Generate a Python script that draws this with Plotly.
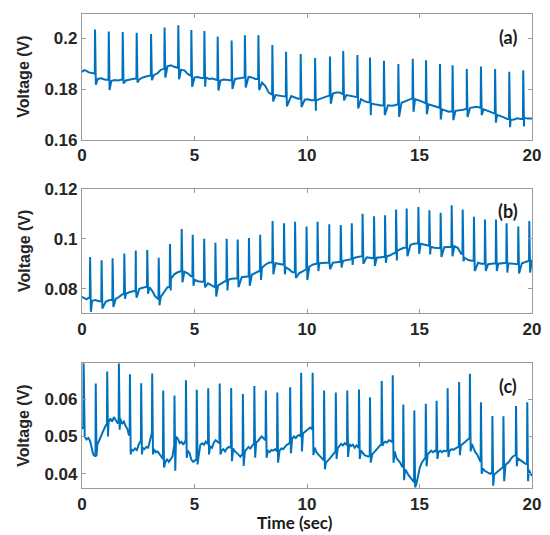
import plotly.graph_objects as go

# ---------------- data ----------------
# Panel (a)
a_base_t = [0.00,0.10,0.20,0.30,0.45,0.55,0.70,0.85,1.00,1.15,1.30,1.45,1.60,1.75,1.95,2.10,2.25,2.40,2.55,2.70,
            2.85,3.00,3.20,3.35,3.50,3.65,3.80,3.95,4.10,4.25,4.40,4.55,4.70,4.85,5.00,5.15,5.30,5.50,5.65,5.80,
            6.00,6.15,6.30,6.50,6.65,6.80,6.95,7.10,7.25,7.40,7.55,7.70,7.85,8.00,8.15,8.30,8.45,8.60,8.80,8.95,
            9.10,9.30,9.45,9.60,9.75,9.90,10.05,10.20,10.40,10.55,10.70,10.85,11.00,11.15,11.30,11.45,11.60,11.75,
            11.90,12.05,12.20,12.40,12.55,12.70,12.85,13.00,13.15,13.30,13.45,13.60,13.75,13.90,14.05,14.20,14.35,
            14.50,14.65,14.80,14.95,15.10,15.25,15.40,15.55,15.70,15.85,16.00,16.15,16.30,16.45,16.60,16.80,16.95,
            17.10,17.25,17.40,17.55,17.70,17.85,18.00,18.15,18.30,18.45,18.60,18.75,18.90,19.05,19.20,19.35,19.50,
            19.65,19.80,19.95,20.00]
a_base_v = [0.1868,0.1875,0.1872,0.1866,0.1864,0.1860,0.1840,0.1843,0.1838,0.1836,0.1832,0.1836,0.1834,0.1838,
            0.1834,0.1838,0.1840,0.1842,0.1838,0.1846,0.1850,0.1854,0.1856,0.1862,0.1876,0.1880,0.1890,0.1894,
            0.1888,0.1884,0.1876,0.1874,0.1860,0.1852,0.1846,0.1848,0.1844,0.1846,0.1840,0.1842,0.1836,0.1834,
            0.1838,0.1836,0.1834,0.1840,0.1842,0.1846,0.1850,0.1848,0.1846,0.1840,0.1838,0.1826,0.1812,0.1786,
            0.1778,0.1776,0.1774,0.1770,0.1768,0.1772,0.1766,0.1762,0.1760,0.1758,0.1760,0.1756,0.1755,0.1760,
            0.1766,0.1770,0.1774,0.1782,0.1786,0.1786,0.1780,0.1776,0.1774,0.1770,0.1768,0.1760,0.1752,0.1748,
            0.1744,0.1740,0.1736,0.1735,0.1738,0.1736,0.1734,0.1736,0.1740,0.1746,0.1752,0.1758,0.1762,0.1760,
            0.1756,0.1750,0.1744,0.1740,0.1736,0.1730,0.1726,0.1720,0.1714,0.1710,0.1712,0.1714,0.1716,0.1718,
            0.1722,0.1726,0.1728,0.1730,0.1726,0.1720,0.1716,0.1710,0.1704,0.1698,0.1694,0.1688,0.1682,0.1678,
            0.1680,0.1684,0.1682,0.1686,0.1684,0.1686,0.1684]
a_spike_t = [0.58,1.19,1.81,2.43,3.07,3.67,4.28,4.86,5.44,6.03,6.65,7.24,7.84,8.46,9.07,9.72,10.36,11.02,
             11.61,12.24,12.80,13.42,14.06,14.70,15.29,15.91,16.47,17.10,17.73,18.36,18.99,19.61]
a_spike_pk = [0.2036,0.2028,0.2026,0.2023,0.2018,0.2044,0.2052,0.2034,0.2030,0.2008,0.1992,0.2013,0.2013,
              0.1974,0.1948,0.1939,0.1923,0.1929,0.1951,0.1935,0.1925,0.1912,0.1899,0.1920,0.1914,0.1899,
              0.1894,0.1879,0.1889,0.1879,0.1868,0.1874]
a_spike_dp = [0.1817,0.1796,0.1822,0.1826,0.1835,0.1845,0.1839,0.1809,0.1809,0.1794,0.1800,0.1806,0.1796,
              0.1751,0.1732,0.1729,0.1714,0.1742,0.1755,0.1723,0.1697,0.1697,0.1690,0.1710,0.1700,0.1680,
              0.1677,0.1690,0.1697,0.1667,0.1649,0.1652]

# Panel (b)
b_base_t = [0.00,0.10,0.20,0.30,0.45,0.60,0.75,0.90,1.05,1.20,1.35,1.50,1.65,1.80,1.95,2.10,2.25,2.40,2.55,2.70,
            2.85,3.00,3.12,3.25,3.38,3.50,3.65,3.80,3.95,4.10,4.25,4.40,4.55,4.70,4.85,5.00,5.15,5.30,5.45,5.60,
            5.75,5.90,6.05,6.20,6.35,6.50,6.65,6.80,6.95,7.10,7.25,7.40,7.55,7.70,7.85,8.00,8.15,8.30,8.45,8.60,
            8.75,8.90,9.05,9.20,9.35,9.50,9.65,9.80,9.95,10.10,10.25,10.40,10.55,10.70,10.85,11.00,11.15,11.30,
            11.45,11.60,11.75,11.90,12.05,12.20,12.35,12.50,12.65,12.80,12.95,13.10,13.25,13.40,13.55,13.70,13.85,
            14.00,14.15,14.30,14.45,14.60,14.75,14.90,15.05,15.20,15.35,15.50,15.65,15.80,15.95,16.10,16.25,16.40,
            16.55,16.70,16.85,17.00,17.15,17.30,17.45,17.60,17.75,17.90,18.05,18.20,18.35,18.50,18.65,18.80,18.95,
            19.10,19.25,19.40,19.55,19.70,19.85,20.00]
b_base_v = [0.0768,0.0762,0.0758,0.0764,0.0752,0.0755,0.0750,0.0752,0.0748,0.0754,0.0756,0.0760,0.0768,0.0778,
            0.0780,0.0786,0.0790,0.0796,0.0800,0.0804,0.0808,0.0806,0.0792,0.0770,0.0758,0.0768,0.0786,0.0806,
            0.0840,0.0858,0.0866,0.0870,0.0868,0.0862,0.0850,0.0836,0.0830,0.0828,0.0826,0.0822,0.0814,0.0806,
            0.0814,0.0822,0.0830,0.0836,0.0840,0.0842,0.0844,0.0846,0.0848,0.0850,0.0856,0.0864,0.0870,0.0884,
            0.0896,0.0904,0.0906,0.0902,0.0900,0.0896,0.0886,0.0878,0.0866,0.0858,0.0862,0.0870,0.0878,0.0888,
            0.0896,0.0900,0.0902,0.0904,0.0904,0.0906,0.0904,0.0906,0.0908,0.0912,0.0914,0.0918,0.0922,0.0926,
            0.0930,0.0928,0.0926,0.0924,0.0922,0.0924,0.0926,0.0928,0.0930,0.0934,0.0942,0.0950,0.0958,0.0964,
            0.0970,0.0976,0.0980,0.0982,0.0980,0.0976,0.0972,0.0968,0.0964,0.0962,0.0964,0.0966,0.0966,0.0968,
            0.0970,0.0964,0.0940,0.0924,0.0916,0.0912,0.0908,0.0904,0.0900,0.0900,0.0898,0.0900,0.0902,0.0900,
            0.0902,0.0904,0.0902,0.0900,0.0898,0.0900,0.0902,0.0906,0.0912,0.0916]
b_spike_t = [0.36,0.87,1.36,1.88,2.39,2.90,3.41,3.91,4.43,4.92,5.43,5.93,6.43,6.92,7.42,7.92,8.47,
             8.98,9.47,9.98,10.47,10.99,11.50,11.99,12.47,12.98,13.47,13.96,14.43,14.95,15.44,15.94,
             16.43,16.92,17.42,17.91,18.40,18.87,19.39,19.88]
b_spike_pk = [0.0927,0.0914,0.0922,0.0941,0.0953,0.0955,0.0924,0.0979,0.1039,0.1016,0.1000,0.0984,0.1000,
              0.0997,0.1003,0.1016,0.1071,0.1062,0.1068,0.1049,0.1068,0.1058,0.1055,0.1062,0.1100,0.1090,
              0.1094,0.1117,0.1121,0.1127,0.1114,0.1104,0.1134,0.1117,0.1088,0.1077,0.1077,0.1062,0.1049,0.1071]
b_spike_dp = [0.0708,0.0721,0.0727,0.0760,0.0764,0.0780,0.0734,0.0793,0.0826,0.0812,0.0806,0.0769,0.0793,
              0.0806,0.0812,0.0835,0.0858,0.0858,0.0843,0.0835,0.0871,0.0878,0.0885,0.0895,0.0900,0.0891,
              0.0904,0.0913,0.0930,0.0940,0.0937,0.0927,0.0930,0.0910,0.0871,0.0871,0.0871,0.0865,0.0861,0.0865]

# Panel (c)
c_base_t = [0.00,0.04,0.12,0.20,0.28,0.36,0.44,0.50,0.57,0.68,0.76,0.84,0.92,1.00,1.06,1.18,1.26,1.34,1.42,1.50,
            1.58,1.70,1.78,1.86,1.94,2.02,2.08,2.20,2.28,2.36,2.44,2.52,2.58,2.70,2.78,2.86,2.94,3.02,3.08,3.20,
            3.28,3.36,3.44,3.52,3.58,3.70,3.78,3.86,3.94,4.02,4.08,4.18,4.26,4.34,4.42,4.50,4.58,4.70,4.78,4.86,
            4.94,5.02,5.07,5.18,5.26,5.34,5.42,5.50,5.58,5.70,5.78,5.86,5.94,6.02,6.09,6.20,6.28,6.36,6.44,6.52,
            6.60,6.72,6.80,6.88,6.96,7.04,7.12,7.24,7.32,7.40,7.48,7.56,7.63,7.74,7.82,7.90,7.98,8.06,8.14,8.26,
            8.34,8.42,8.50,8.58,8.65,8.78,8.86,8.94,9.02,9.10,9.18,9.22,9.34,9.42,9.50,9.58,9.66,9.71,9.82,9.90,
            9.98,10.06,10.14,10.22,10.34,10.42,10.50,10.58,10.66,10.73,10.84,10.92,11.00,11.08,11.16,11.25,11.36,
            11.44,11.52,11.60,11.68,11.76,11.88,11.96,12.04,12.12,12.20,12.28,12.40,12.48,12.56,12.64,12.72,12.77,
            12.90,12.98,13.06,13.14,13.22,13.29,13.40,13.48,13.56,13.64,13.72,13.78,13.90,13.98,14.06,14.14,14.22,
            14.25,14.36,14.44,14.52,14.60,14.68,14.74,14.86,14.94,15.02,15.10,15.18,15.25,15.36,15.44,15.52,15.60,
            15.68,15.73,15.84,15.92,16.00,16.08,16.16,16.22,16.34,16.42,16.50,16.58,16.66,16.73,16.84,16.92,17.00,
            17.08,17.16,17.21,17.32,17.40,17.48,17.56,17.64,17.70,17.82,17.90,17.98,18.06,18.14,18.21,18.32,18.40,
            18.48,18.56,18.64,18.70,18.82,18.90,18.98,19.06,19.14,19.26,19.36,19.44,19.52,19.60,19.68,19.76,19.86,
            19.94,20.00]
c_base_v = [0.0520,0.0525,0.0500,0.0492,0.0496,0.0488,0.0470,0.0452,0.0448,0.0478,0.0492,0.0500,0.0512,0.0522,
            0.0530,0.0538,0.0548,0.0540,0.0552,0.0544,0.0536,0.0548,0.0534,0.0540,0.0528,0.0520,0.0505,0.0465,
            0.0462,0.0468,0.0464,0.0478,0.0485,0.0470,0.0466,0.0472,0.0470,0.0490,0.0510,0.0466,0.0458,0.0460,
            0.0452,0.0446,0.0440,0.0430,0.0440,0.0432,0.0438,0.0446,0.0470,0.0500,0.0494,0.0482,0.0486,0.0478,
            0.0490,0.0462,0.0456,0.0438,0.0432,0.0436,0.0440,0.0446,0.0478,0.0482,0.0478,0.0486,0.0480,0.0474,
            0.0470,0.0484,0.0490,0.0486,0.0482,0.0462,0.0466,0.0460,0.0468,0.0472,0.0470,0.0468,0.0460,0.0456,
            0.0450,0.0446,0.0452,0.0460,0.0466,0.0472,0.0468,0.0476,0.0480,0.0484,0.0488,0.0494,0.0500,0.0496,
            0.0490,0.0462,0.0458,0.0464,0.0462,0.0466,0.0460,0.0462,0.0468,0.0466,0.0472,0.0478,0.0480,0.0484,
            0.0494,0.0500,0.0496,0.0502,0.0504,0.0500,0.0508,0.0512,0.0514,0.0518,0.0524,0.0520,0.0470,0.0458,
            0.0452,0.0446,0.0440,0.0436,0.0430,0.0434,0.0440,0.0446,0.0452,0.0460,0.0468,0.0474,0.0480,0.0476,
            0.0482,0.0478,0.0480,0.0474,0.0478,0.0470,0.0476,0.0470,0.0462,0.0456,0.0450,0.0448,0.0446,0.0448,
            0.0452,0.0458,0.0464,0.0470,0.0476,0.0480,0.0482,0.0486,0.0484,0.0490,0.0488,0.0485,0.0460,0.0442,
            0.0436,0.0430,0.0420,0.0418,0.0412,0.0402,0.0396,0.0390,0.0384,0.0378,0.0372,0.0400,0.0418,0.0430,
            0.0438,0.0444,0.0452,0.0458,0.0462,0.0458,0.0462,0.0460,0.0458,0.0462,0.0458,0.0462,0.0460,0.0464,
            0.0462,0.0466,0.0464,0.0468,0.0470,0.0472,0.0476,0.0480,0.0484,0.0488,0.0492,0.0496,0.0480,0.0468,
            0.0458,0.0452,0.0440,0.0434,0.0414,0.0408,0.0406,0.0404,0.0400,0.0402,0.0398,0.0402,0.0406,0.0410,
            0.0414,0.0418,0.0424,0.0428,0.0432,0.0440,0.0446,0.0450,0.0442,0.0438,0.0434,0.0430,0.0428,0.0426,
            0.0410,0.0398,0.0394]
c_spike_t = [0.07,0.61,1.12,1.64,2.13,2.63,3.12,3.61,4.11,4.62,5.10,5.61,6.12,6.63,7.15,7.66,8.17,8.68,9.25,9.74,
             10.25,10.76,11.28,11.79,12.31,12.80,13.32,13.81,14.28,14.77,15.28,15.76,16.25,16.76,17.24,17.73,
             18.24,18.73,19.29,19.79]
c_spike_pk = [0.0710,0.0642,0.0674,0.0696,0.0667,0.0643,0.0669,0.0623,0.0610,0.0651,0.0625,0.0629,0.0642,0.0630,
              0.0614,0.0635,0.0623,0.0618,0.0632,0.0671,0.0671,0.0623,0.0618,0.0623,0.0626,0.0605,0.0649,0.0664,
              0.0586,0.0570,0.0588,0.0596,0.0629,0.0646,0.0668,0.0592,0.0555,0.0554,0.0582,0.0592]
c_spike_dp = [0.0500,0.0447,0.0500,0.0518,0.0452,0.0452,0.0452,0.0417,0.0408,0.0443,0.0425,0.0452,0.0452,0.0434,
              0.0421,0.0443,0.0443,0.0430,0.0455,0.0460,0.0450,0.0412,0.0440,0.0445,0.0440,0.0430,0.0475,0.0430,
              0.0383,0.0364,0.0420,0.0440,0.0445,0.0450,0.0460,0.0400,0.0368,0.0380,0.0420,0.0380]

x_ticks = [0, 5, 10, 15, 20]
a_yticks = [0.16, 0.18, 0.20]; a_yticktext = ["0.16", "0.18", "0.2"]
b_yticks = [0.08, 0.10, 0.12]; b_yticktext = ["0.08", "0.1", "0.12"]
c_yticks = [0.04, 0.05, 0.06]; c_yticktext = ["0.04", "0.05", "0.06"]
panel_labels = ["(a)", "(b)", "(c)"]
y_label = "Voltage (V)"
x_label = "Time (sec)"


def build(base_t, base_v, sp_t, sp_pk, sp_dp):
    pts = [(t, 0, v) for t, v in zip(base_t, base_v)]
    for t, pk, dp in zip(sp_t, sp_pk, sp_dp):
        prev = [v for bt, v in zip(base_t, base_v) if bt <= t]
        foot = prev[-1] if prev else base_v[0]
        pts += [(t - 0.012, 1, foot), (t, 1, pk), (t + 0.035, 1, dp)]
    pts.sort(key=lambda p: (p[0], p[1]))
    return [p[0] for p in pts], [p[2] for p in pts]


# ---------------- figure ----------------
W, H = 550, 535
ML, MR, MT, MB = 82, 18, 5, 47
PH = H - MT - MB
def dom(top_px, bot_px):
    return [(H - MB - bot_px) / PH, (H - MB - top_px) / PH]

color = "#0072BD"
fig = go.Figure()
panels = [
    (a_base_t, a_base_v, a_spike_t, a_spike_pk, a_spike_dp, [0.16, 0.2097], a_yticks, a_yticktext, dom(5, 133)),
    (b_base_t, b_base_v, b_spike_t, b_spike_pk, b_spike_dp, [0.0702, 0.12], b_yticks, b_yticktext, dom(183, 310)),
    (c_base_t, c_base_v, c_spike_t, c_spike_pk, c_spike_dp, [0.0362, 0.0696], c_yticks, c_yticktext, dom(361, 488)),
]
tickfont = dict(family="Liberation Sans, Arial, sans-serif", size=17, color="#262626", weight="bold")
layout = dict(width=W, height=H, margin=dict(l=ML, r=MR, t=MT, b=MB),
              paper_bgcolor="white", plot_bgcolor="white", showlegend=False)
annotations = []
for i, (bt, bv, st, spk, sdp, yr, yt, ytt, d) in enumerate(panels):
    xs, ys = build(bt, bv, st, spk, sdp)
    sfx = "" if i == 0 else str(i + 1)
    fig.add_trace(go.Scatter(x=xs, y=ys, mode="lines", line=dict(color=color, width=2),
                             xaxis="x" + sfx, yaxis="y" + sfx, hoverinfo="skip"))
    axstyle = dict(showline=True, linecolor="#9a9a9a", linewidth=1.2, mirror="ticks",
                   ticks="inside", ticklen=4, tickcolor="#9a9a9a", tickwidth=1,
                   showgrid=False, zeroline=False, tickfont=tickfont)
    layout["xaxis" + sfx] = dict(range=[0, 20], tickvals=x_ticks, ticktext=[str(v) for v in x_ticks],
                                 domain=[0, 1], anchor="y" + sfx, **axstyle)
    layout["yaxis" + sfx] = dict(range=yr, tickvals=yt, ticktext=ytt, domain=d,
                                 anchor="x" + sfx, **axstyle)
    yc = (d[0] + d[1]) / 2
    annotations.append(dict(text=y_label, textangle=-90, xref="paper", yref="paper",
                            x=(24 - ML) / (W - ML - MR), y=yc, showarrow=False,
                            xanchor="center", yanchor="middle",
                            font=dict(family="Liberation Sans, Arial, sans-serif", size=16,
                                      color="#262626", weight="bold")))
    annotations.append(dict(text=panel_labels[i], xref="paper", yref="paper",
                            x=(508 - ML) / (W - ML - MR), y=d[1] - 23 / PH, showarrow=False,
                            xanchor="center", yanchor="middle",
                            font=dict(family="Lato, Open Sans, sans-serif", size=18,
                                      color="#1a1a1a", weight="bold")))
annotations.append(dict(text=x_label, xref="paper", yref="paper",
                        x=(295 - ML) / (W - ML - MR), y=-(523 - (H - MB)) / PH, showarrow=False,
                        xanchor="center", yanchor="middle",
                        font=dict(family="Lato, Open Sans, sans-serif", size=17,
                                  color="#1a1a1a", weight="bold")))
layout["annotations"] = annotations
fig.update_layout(**layout)
fig.write_html("out.html")
